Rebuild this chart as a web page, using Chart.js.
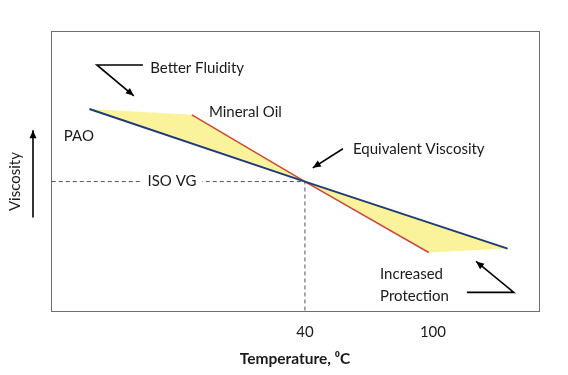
<!DOCTYPE html>
<html>
<head>
<meta charset="utf-8">
<script src="https://cdn.jsdelivr.net/npm/chart.js@4/dist/chart.umd.min.js"></script>
<style>
  html, body { margin: 0; padding: 0; background: #fff; }
</style>
</head>
<body>
<canvas id="chart-visc" width="568" height="375"></canvas>
<script>
// viscosity vs temperature, PAO against mineral oil (arbitrary viscosity units)
const paoTemp = [-61, 40, 135];
const paoVisc = [72.2, 46.3, 22.4];
const oilTemp = [-13, 40, 98];
const oilVisc = [70.1, 46.3, 21.0];
const tickTemps = [40, 100];
const isoTemp = 40;
const isoVisc = 46.3;

// text notes and arrows, in chart units
const notes = [
    { text: 'Better Fluidity', x: -32.5, y: 86.8 },
    { text: 'Mineral Oil', x: -5, y: 71.2 },
    { text: 'PAO', x: -73, y: 62.6 },
    { text: 'Equivalent Viscosity', x: 62.5, y: 58.0 },
    { text: 'Increased', x: 75.2, y: 13.2 },
    { text: 'Protection', x: 75.2, y: 5.3 }
];
const arrows = [
    [[-35.9, 87.9], [-57.5, 87.9], [-40.2, 76.9]],
    [[57.8, 58.0], [43.7, 51.2]],
    [[115.9, 6.8], [137.9, 6.8], [120.2, 17.8]]
];

function pts(xs, ys) {
    return xs.map((v, i) => ({ x: v, y: ys[i] }));
}

// yellow area between the two lines (two triangles meeting at the cross point)
const bandPts = [
    { x: paoTemp[0], y: paoVisc[0] },
    { x: oilTemp[0], y: oilVisc[0] },
    { x: oilTemp[1], y: oilVisc[1] },
    { x: oilTemp[2], y: oilVisc[2] },
    { x: paoTemp[2], y: paoVisc[2] },
    { x: paoTemp[1], y: paoVisc[1] },
    { x: paoTemp[0], y: paoVisc[0] }
];

const FONT = 'Lato, "Open Sans", sans-serif';

function drawArrow(ctx, p) {
    ctx.beginPath();
    ctx.moveTo(p[0][0], p[0][1]);
    for (let i = 1; i < p.length; i++) ctx.lineTo(p[i][0], p[i][1]);
    ctx.stroke();
    const a = p[p.length - 2], b = p[p.length - 1];
    const ang = Math.atan2(b[1] - a[1], b[0] - a[0]);
    const len = 8, w = 3.5;
    ctx.beginPath();
    ctx.moveTo(b[0], b[1]);
    ctx.lineTo(b[0] - len * Math.cos(ang) + w * Math.sin(ang), b[1] - len * Math.sin(ang) - w * Math.cos(ang));
    ctx.lineTo(b[0] - len * Math.cos(ang) - w * Math.sin(ang), b[1] - len * Math.sin(ang) + w * Math.cos(ang));
    ctx.closePath();
    ctx.fill();
}

const annotations = {
    id: 'annotations',
    afterDraw(chart) {
        const { ctx, chartArea: a, scales: { x, y } } = chart;
        ctx.save();
        // frame
        ctx.strokeStyle = '#6e6e6e';
        ctx.lineWidth = 1;
        ctx.strokeRect(Math.round(a.left) + 0.5, Math.round(a.top) + 0.5,
            Math.round(a.right - a.left), Math.round(a.bottom - a.top));

        ctx.font = '15px ' + FONT;
        ctx.fillStyle = '#1a1a1a';
        ctx.textBaseline = 'middle';
        ctx.textAlign = 'left';

        // ISO VG label sitting on the dashed line
        const isoX = (x.getPixelForValue(isoTemp) + a.left) / 2 - 6;
        const isoY = y.getPixelForValue(isoVisc);
        const tw = ctx.measureText('ISO VG').width;
        ctx.fillStyle = '#fff';
        ctx.fillRect(isoX - tw / 2 - 6, isoY - 8, tw + 12, 16);
        ctx.fillStyle = '#1a1a1a';
        ctx.textAlign = 'center';
        ctx.fillText('ISO VG', isoX, isoY);
        ctx.textAlign = 'left';

        notes.forEach(n => {
            ctx.fillText(n.text, x.getPixelForValue(n.x), y.getPixelForValue(n.y));
        });

        ctx.strokeStyle = '#000';
        ctx.fillStyle = '#000';
        ctx.lineWidth = 1.6;
        arrows.forEach(arr => {
            drawArrow(ctx, arr.map(p => [x.getPixelForValue(p[0]), y.getPixelForValue(p[1])]));
        });

        // y axis title with its arrow
        const cy = y.getPixelForValue(isoVisc);
        ctx.save();
        ctx.translate(a.left - 36, cy);
        ctx.rotate(-Math.PI / 2);
        ctx.textAlign = 'center';
        ctx.fillStyle = '#1a1a1a';
        ctx.fillText('Viscosity', 0, 0);
        ctx.restore();
        const ax = a.left - 18;
        drawArrow(ctx, [[ax, y.getPixelForValue(33.5)], [ax, y.getPixelForValue(64.6)]]);
        ctx.restore();
    }
};

const viscCtx = document.getElementById('chart-visc').getContext('2d');
const chart_visc = new Chart(viscCtx, {
    type: 'scatter',
    data: {
        datasets: [
            {
                label: 'PAO',
                data: pts(paoTemp, paoVisc),
                showLine: true,
                borderColor: '#1f3c74',
                borderWidth: 2,
                pointRadius: 0,
                fill: false
            },
            {
                label: 'Mineral Oil',
                data: pts(oilTemp, oilVisc),
                showLine: true,
                borderColor: '#cc4a3c',
                borderWidth: 1.6,
                pointRadius: 0,
                fill: false
            },
            {
                label: 'ISO VG',
                data: [{ x: -200, y: isoVisc }, { x: isoTemp, y: isoVisc }, { x: isoTemp, y: -50 }],
                showLine: true,
                borderColor: '#555',
                borderWidth: 1,
                borderDash: [4, 3],
                pointRadius: 0,
                fill: false
            },
            {
                label: 'band',
                data: bandPts,
                showLine: true,
                borderWidth: 0,
                borderColor: 'rgba(0,0,0,0)',
                backgroundColor: '#fbf39c',
                pointRadius: 0,
                fill: 'shape'
            }
        ]
    },
    options: {
        responsive: false,
        animation: false,
        layout: { padding: { left: 51, top: 31, right: 29, bottom: 7 } },
        plugins: {
            legend: { display: false },
            tooltip: { enabled: false }
        },
        scales: {
            x: {
                type: 'linear',
                min: -79,
                max: 149.7,
                afterBuildTicks: axis => { axis.ticks = tickTemps.map(v => ({ value: v })); },
                grid: { display: false, drawTicks: false },
                border: { display: false },
                ticks: {
                    padding: 12,
                    color: '#1a1a1a',
                    font: { family: FONT, size: 15 }
                },
                title: {
                    display: true,
                    text: 'Temperature, \u2070C',
                    color: '#1a1a1a',
                    padding: { top: -4, bottom: 0 },
                    font: { family: FONT, size: 15.5, weight: 'bold' }
                }
            },
            y: {
                display: false,
                min: 0,
                max: 100
            }
        }
    },
    plugins: [annotations]
});
</script>
</body>
</html>
